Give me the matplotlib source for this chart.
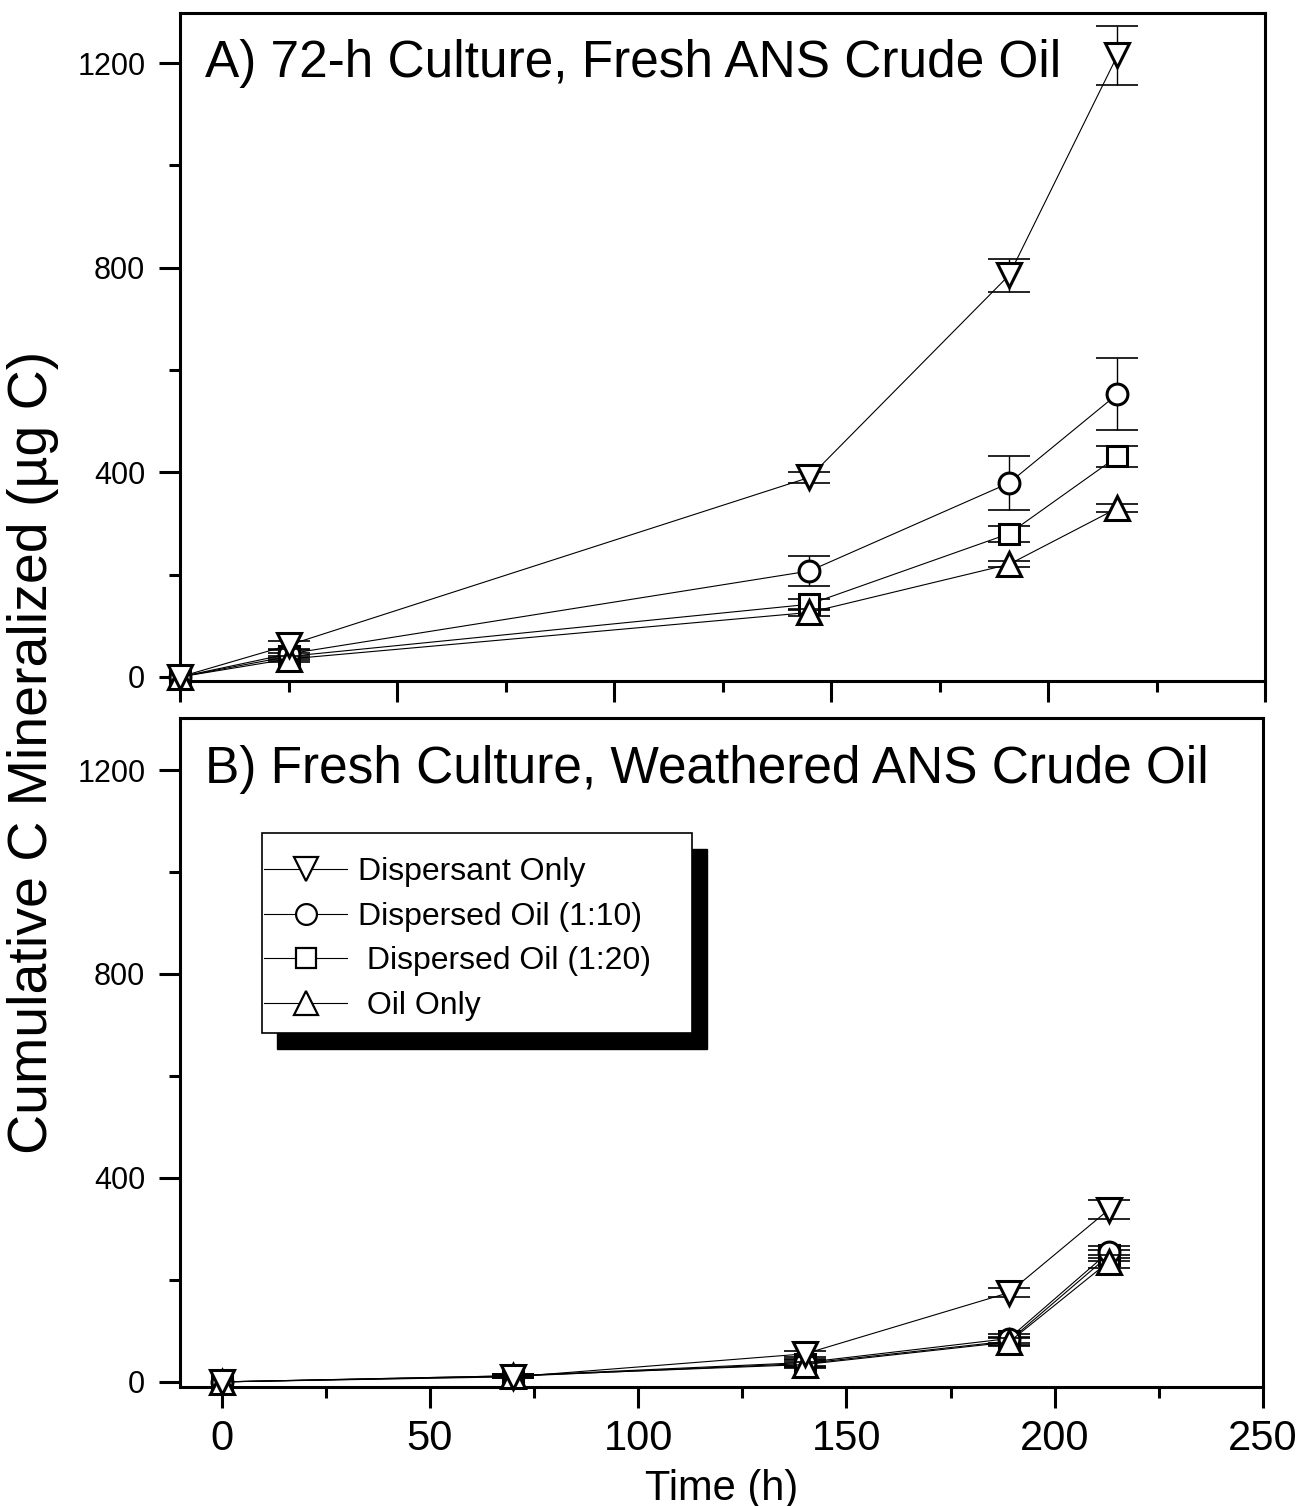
import matplotlib
matplotlib.use("Agg")
import matplotlib.pyplot as plt
from matplotlib.patches import Rectangle
from matplotlib.ticker import MultipleLocator

plt.rcParams['font.family'] = ['Liberation Sans', 'DejaVu Sans']

# ---------------- data ----------------
series_labels = ["Dispersant Only", "Dispersed Oil (1:10)", " Dispersed Oil (1:20)", " Oil Only"]
series_markers = ["v", "o", "s", "^"]

# Panel A: 72-h culture, fresh ANS crude oil
time_a = [0, 25, 145, 191, 216]
disp_a = [0, 62, 390, 785, 1215]
disp_a_err = [0, 8, 10, 33, 57]
d10_a = [0, 45, 207, 379, 553]
d10_a_err = [0, 8, 30, 52, 70]
d20_a = [0, 40, 142, 280, 431]
d20_a_err = [0, 6, 11, 16, 20]
oil_a = [0, 35, 126, 220, 330]
oil_a_err = [0, 5, 7, 6, 8]

# Panel B: fresh culture, weathered ANS crude oil
time_b = [0, 70, 140, 189, 213]
disp_b = [0, 10, 55, 175, 338]
disp_b_err = [0, 3, 6, 9, 19]
d10_b = [0, 12, 38, 85, 255]
d10_b_err = [0, 3, 6, 8, 12]
d20_b = [0, 11, 36, 80, 248]
d20_b_err = [0, 3, 6, 8, 10]
oil_b = [0, 12, 34, 78, 236]
oil_b_err = [0, 3, 6, 8, 12]

title_a = "A) 72-h Culture, Fresh ANS Crude Oil"
title_b = "B) Fresh Culture, Weathered ANS Crude Oil"
y_ticks = [0, 400, 800, 1200]
x_ticks = [0, 50, 100, 150, 200, 250]

# ---------------- figure ----------------
W, H = 1301, 1506
fig = plt.figure(figsize=(W / 100, H / 100), dpi=100)
ax1 = fig.add_axes([180 / W, 1 - 681 / H, 1085 / W, 668 / H])
ax2 = fig.add_axes([180 / W, 1 - 1387 / H, 1083 / W, 669 / H])

msizes = {"v": 17, "o": 15, "s": 14.5, "^": 17}
# drawing order (bottom to top): 1:20, 1:10, oil, dispersant
order = [2, 1, 3, 0]


def draw_panel(ax, t, ys, errs):
    handles = {}
    for k, i in enumerate(order):
        z = 3 + 2 * k
        m = series_markers[i]
        ln, = ax.plot(t, ys[i], color="black", lw=0.8, marker=m,
                      ms=msizes[m], mew=2.2, mfc="white", mec="black",
                      clip_on=False, zorder=z, label=series_labels[i])
        ax.errorbar(t[1:], ys[i][1:], yerr=errs[i][1:], fmt="none",
                    ecolor="black", elinewidth=1.0, capsize=15, capthick=1.2,
                    zorder=z - 0.5, clip_on=False)
        handles[i] = ln
    return [handles[i] for i in range(4)]


draw_panel(ax1, time_a, [disp_a, d10_a, d20_a, oil_a],
           [disp_a_err, d10_a_err, d20_a_err, oil_a_err])
hb = draw_panel(ax2, time_b, [disp_b, d10_b, d20_b, oil_b],
                [disp_b_err, d10_b_err, d20_b_err, oil_b_err])

ax1.set_xlim(0, 250)
ax1.set_ylim(-8, 1298)
ax2.set_xlim(-10, 250)
ax2.set_ylim(-10, 1302)

for ax in (ax1, ax2):
    for s in ax.spines.values():
        s.set_linewidth(2.2)
    ax.set_xticks(x_ticks)
    ax.set_yticks(y_ticks)
    ax.xaxis.set_minor_locator(MultipleLocator(25))
    ax.yaxis.set_minor_locator(MultipleLocator(200))
    ax.tick_params(which="major", direction="out", length=15, width=2.2)
    ax.tick_params(which="minor", direction="out", length=8, width=2.2)
    ax.tick_params(axis="y", which="major", labelsize=22, pad=10)
    ax.tick_params(axis="x", which="major", labelsize=30, pad=8)

ax1.tick_params(axis="x", labelbottom=False)
ax2.set_xlabel("Time (h)", fontsize=30, labelpad=7)

ax1.text(205 / W, 1 - 63 / H, title_a, transform=fig.transFigure,
         fontsize=37, ha="left", va="center", zorder=20)
ax2.text(205 / W, 1 - 770 / H, title_b, transform=fig.transFigure,
         fontsize=37, ha="left", va="center", zorder=20)

fig.text(33 / W, 1 - 752 / H, "Cumulative C Mineralized (\u00b5g C)",
         rotation=90, ha="center", va="center", fontsize=40)

# legend with offset shadow box
bx0, by0, bx1, by1 = 262, 833, 692, 1033
shadow = Rectangle(((bx0 + 15) / W, 1 - (by1 + 16) / H), (bx1 - bx0) / W, (by1 - by0) / H,
                   transform=fig.transFigure, facecolor="black", edgecolor="black",
                   zorder=30, clip_on=False)
box = Rectangle((bx0 / W, 1 - by1 / H), (bx1 - bx0) / W, (by1 - by0) / H,
                transform=fig.transFigure, facecolor="white", edgecolor="black",
                lw=1.2, zorder=31, clip_on=False)
ax2.add_patch(shadow)
ax2.add_patch(box)
leg = ax2.legend(handles=hb, loc="upper left", bbox_to_anchor=(264 / W, 1 - 857 / H),
                 bbox_transform=fig.transFigure, frameon=False, fontsize=23,
                 handlelength=2.6, handletextpad=0.35, labelspacing=0.46,
                 borderpad=0, borderaxespad=0)
leg.set_zorder(40)
for h in leg.legend_handles:
    h.set_markeredgewidth(1.6)

fig.savefig("out.png", dpi=100)
